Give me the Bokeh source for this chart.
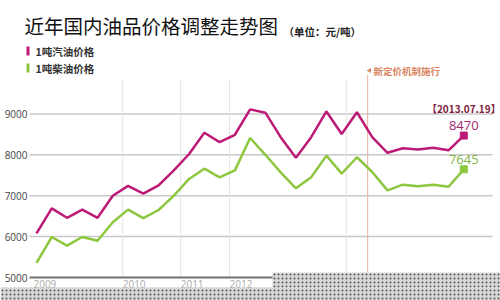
from bokeh.plotting import figure
from bokeh.models import Range1d
from bokeh.core.properties import value
from bokeh.embed import file_html
from bokeh.resources import INLINE

# ---- data ----
gasoline = [6080, 6690, 6460, 6660, 6460, 7000, 7240, 7050, 7250, 7620,
            8020, 8540, 8310, 8490, 9110, 9030, 8430, 7930, 8430, 9060,
            8510, 9040, 8430, 8050, 8160, 8130, 8170, 8110, 8470]
diesel = [5360, 5990, 5780, 5990, 5900, 6350, 6660, 6450, 6650, 7000,
          7410, 7660, 7450, 7620, 8410, 8000, 7570, 7180, 7450, 7980,
          7540, 7940, 7580, 7130, 7270, 7230, 7270, 7220, 7645]
adjustment = list(range(len(gasoline)))          # n-th price adjustment
year_pos = [-0.2, 5.65, 9.45, 12.65, 20.3]         # where each year starts
year_labels = ["2009", "2010", "2011", "2012", "2013"]
y_ticks = [5000, 6000, 7000, 8000, 9000]
y_tick_labels = [str(t) for t in y_ticks]
reform_pos = 21.7                                  # new pricing mechanism
last_date = "【2013.07.19】"
series_names = ["1吨汽油价格", "1吨柴油价格"]
title = "近年国内油品价格调整走势图"
unit = "（单位：元/吨）"
reform_text = "新定价机制施行"

GAS = "#bd1a78"
DSL = "#8dc63f"
W, H = 500, 300

# data scales: the plotting frame covers the whole canvas
p = figure(width=W, height=H, output_backend="svg", toolbar_location=None,
           x_range=Range1d(-2.359, 30.406), y_range=Range1d(4437.7, 11772.6),
           min_border=0, x_axis_location=None, y_axis_location=None)
p.outline_line_color = None
p.grid.visible = False
p.background_fill_color = "white"
p.border_fill_color = "white"
# pixel scale for page furniture (titles, legend)
p.extra_x_ranges = {"px": Range1d(0, W)}
p.extra_y_ranges = {"px": Range1d(H, 0)}

# grid: horizontal value lines and vertical year lines
p.segment(x0=[29] * len(y_ticks), x1=[492] * len(y_ticks), y0=y_ticks, y1=y_ticks,
          x_range_name="px", line_color="#c8c8c8", line_width=1.5)
p.segment(x0=year_pos[1:], x1=year_pos[1:], y0=[y_ticks[0]] * 4, y1=[9850] * 4,
          line_color="#e4e4e4", line_width=1)
# x axis line
p.segment(x0=[29], x1=[492], y0=[y_ticks[0]], y1=[y_ticks[0]],
          x_range_name="px", line_color="#777777", line_width=2)

# reform marker
p.segment(x0=[reform_pos], x1=[reform_pos], y0=[y_ticks[0]], y1=[9950],
          line_color="#ebb2a0", line_width=1)
p.scatter([369], [70], x_range_name="px", y_range_name="px", marker="triangle",
          angle=1.5708, size=5, fill_color="#d9835f", line_color=None)
p.text([373], [70], text=[reform_text], x_range_name="px", y_range_name="px",
       text_baseline="middle", text_font=value("Noto Sans CJK SC"),
       text_font_size="9.5px", text_font_style="bold", text_color="#d9835f")

# series
p.line(adjustment, gasoline, line_color=GAS, line_width=2.5)
p.line(adjustment, diesel, line_color=DSL, line_width=2.5)
p.scatter([adjustment[-1]], [gasoline[-1]], marker="square", size=7,
          fill_color=GAS, line_color=GAS)
p.scatter([adjustment[-1]], [diesel[-1]], marker="square", size=7,
          fill_color=DSL, line_color=DSL)

p.text([adjustment[-1]], [gasoline[-1]], text=[str(gasoline[-1])],
       text_align="center", text_baseline="alphabetic", y_offset=-10,
       text_font=value("Open Sans"), text_font_size="13px", text_color="#a5286c")
p.text([adjustment[-1]], [diesel[-1]], text=[str(diesel[-1])],
       text_align="center", text_baseline="alphabetic", y_offset=-10,
       text_font=value("Open Sans"), text_font_size="13px", text_color="#84b743")
p.text([adjustment[-1]], [gasoline[-1]], text=[last_date],
       text_align="center", text_baseline="alphabetic", y_offset=-27,
       text_font=value("Noto Sans CJK SC"), text_font_size="10px",
       text_font_style="bold", text_color="#7d2340")

# tick labels
p.text([27] * len(y_ticks), y_ticks, text=y_tick_labels, x_range_name="px",
       text_align="right", text_baseline="middle", text_font=value("Open Sans"),
       text_font_size="10px", text_color="#444444")
p.text(year_pos, [283] * len(year_pos), text=year_labels, y_range_name="px",
       text_align="left", text_baseline="middle", text_font=value("Open Sans"),
       text_font_size="10px", text_color="#aaaaaa")

# title and legend
p.text([24], [25], text=[title], x_range_name="px", y_range_name="px",
       text_baseline="middle", text_font=value("Noto Sans CJK SC"),
       text_font_size="19.5px", text_color="#111111")
p.text([283], [31], text=[unit], x_range_name="px", y_range_name="px",
       text_baseline="middle", text_font=value("Noto Sans CJK SC"),
       text_font_size="10.5px", text_font_style="bold", text_color="#222222")
p.quad(left=[26, 26], right=[29, 29], top=[46, 63], bottom=[55, 72],
       x_range_name="px", y_range_name="px", fill_color=[GAS, DSL], line_color=None)
p.text([35, 35], [51, 68], text=series_names, x_range_name="px", y_range_name="px",
       text_baseline="middle", text_font=value("Noto Sans CJK SC"),
       text_font_size="10.5px", text_font_style="bold", text_color="#333333")

# transparency-checker band over the bottom of the picture
p.quad(left=[0, 272], right=[W, W], top=[287, 272], bottom=[H, 287],
       x_range_name="px", y_range_name="px", fill_color="#d8d8d8", line_color=None,
       hatch_pattern="dot", hatch_color="#555555", hatch_scale=4, hatch_weight=1)

open("out.html", "w").write(file_html(p, INLINE))
